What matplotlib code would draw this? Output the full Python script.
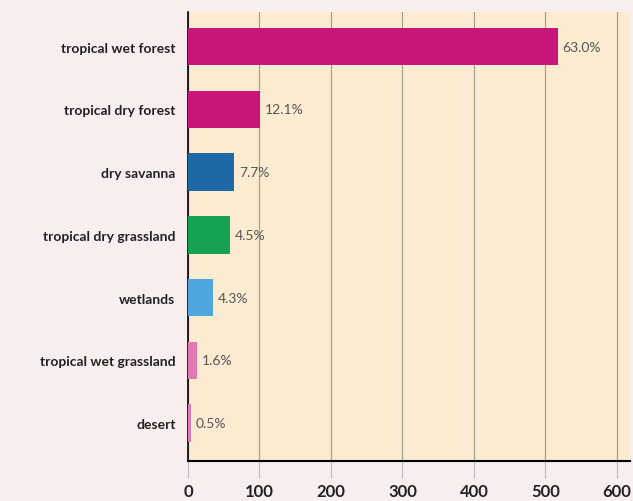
import matplotlib.pyplot as plt
import numpy as np

plt.rcParams['font.family'] = ['Lato', 'DejaVu Sans']

# biomes, bottom to top
biomes = ["desert", "tropical wet grassland", "wetlands", "tropical dry grassland",
          "dry savanna", "tropical dry forest", "tropical wet forest"]
values = [4, 13, 35, 59, 65, 101, 517]
shares = ["0.5%", "1.6%", "4.3%", "4.5%", "7.7%", "12.1%", "63.0%"]
colors = ["#e07ab0", "#e07ab0", "#4ea6dc", "#17a252", "#1d69a6", "#c9167b", "#c9167b"]
xticks = [0, 100, 200, 300, 400, 500, 600]

fig = plt.figure(figsize=(6.33, 5.02), dpi=100)
fig.patch.set_facecolor("#f9eeee")
ax = fig.add_axes([0.297, 0.08, 0.698, 0.894])
ax.set_facecolor("#fbebd1")

y = np.arange(len(biomes))
ax.barh(y, values, height=0.6, color=colors, zorder=3)
for yi, v, s in zip(y, values, shares):
    ax.text(v + 6, yi, s, va="center", ha="left", fontsize=10, color="#555555", zorder=4)

ax.set_xlim(0, 618)
ax.set_ylim(-0.6, 6.55)
ax.set_yticks(y)
ax.set_yticklabels(biomes, fontsize=10, fontweight="bold", color="#222222")
ax.set_xticks(xticks)
ax.set_xticklabels([str(t) for t in xticks], fontsize=12, fontweight="bold", color="#222222")
ax.tick_params(axis="y", length=0, pad=9)
ax.tick_params(axis="x", length=12, color="#bbbbbb", pad=4)
ax.xaxis.grid(True, color="#a8a090", linewidth=0.9, zorder=1)

for side in ["top", "right"]:
    ax.spines[side].set_visible(False)
ax.spines["left"].set_linewidth(1.2)
ax.spines["bottom"].set_linewidth(1.5)

plt.savefig("out.png", dpi=100, facecolor=fig.get_facecolor())
